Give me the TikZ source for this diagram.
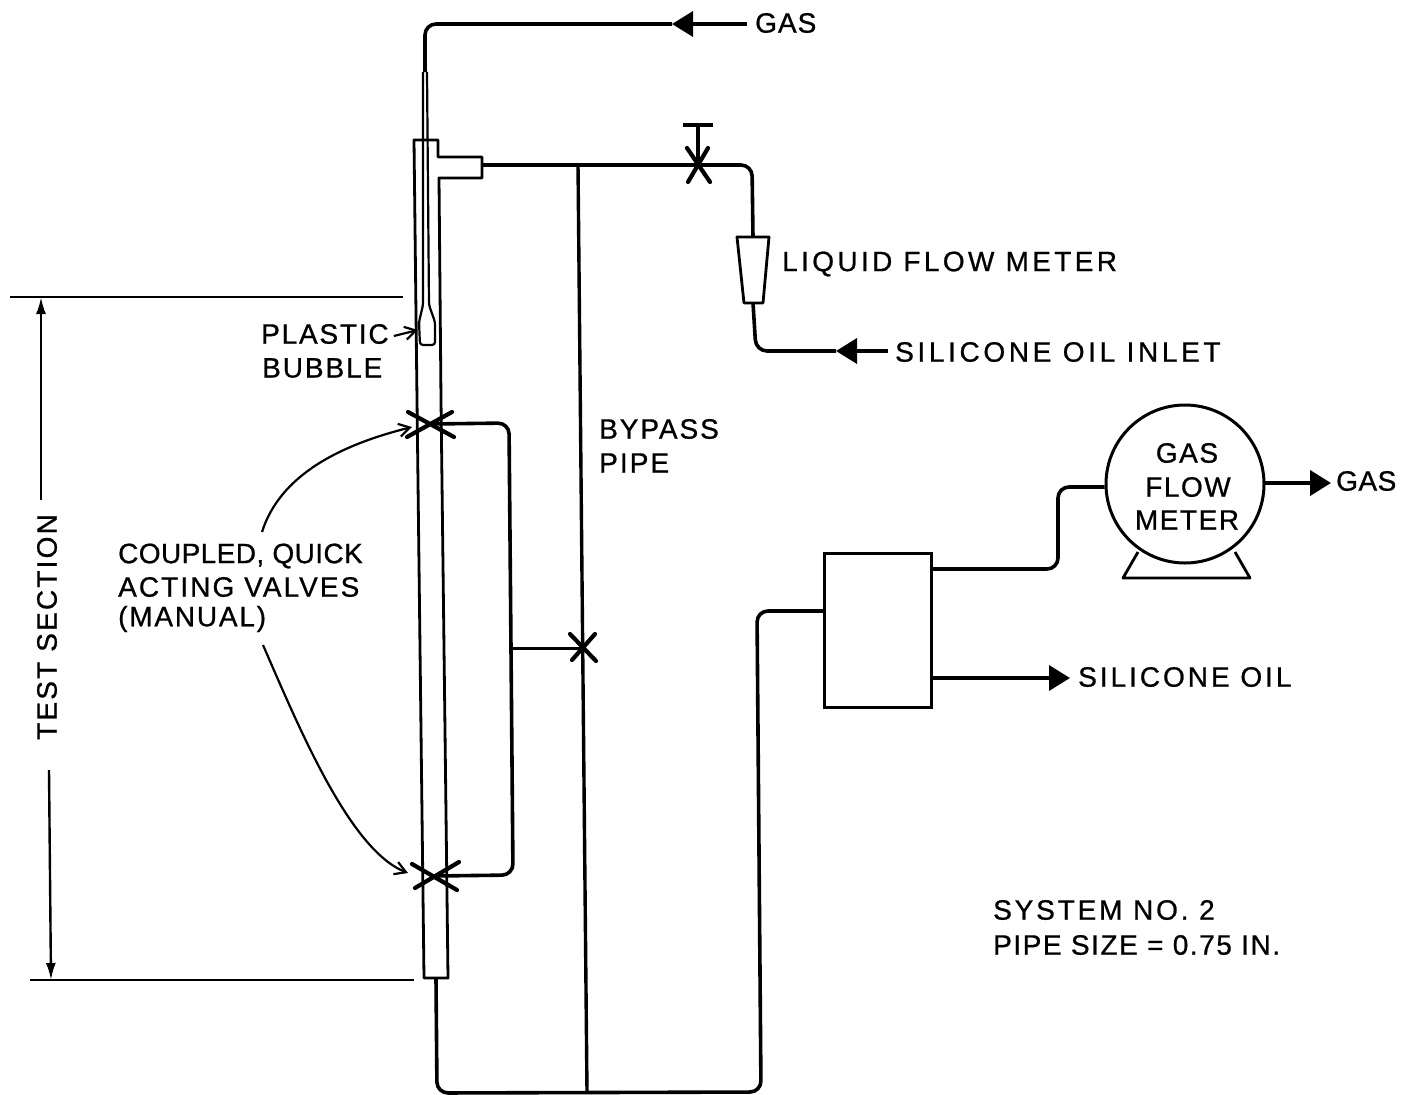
\documentclass[tikz,border=0pt]{standalone}
\usepackage{fontspec}
\setmainfont[FakeBold=0.8]{Liberation Sans}
\usetikzlibrary{arrows.meta}
\newcommand{\spaced}[2]{{\addfontfeatures{LetterSpace=#1}#2}}
\tikzset{
  pipe/.style={line width=3.6pt,line join=round,rounded corners=11pt},
  thin wall/.style={line width=2.8pt,line join=round},
  cross/.style={line width=4.2pt,line cap=round},
  flow/.style={line width=3.6pt,-{Triangle[length=21pt,width=25pt]}},
  barb/.style={line width=2.2pt,-{Straight Barb[length=11pt,width=13pt,line width=2.2pt]}},
  lbl/.style={anchor=west,inner sep=0pt,font=\fontsize{28}{32}\selectfont},
  clbl/.style={anchor=center,inner sep=0pt,font=\fontsize{28}{32}\selectfont},
}
\begin{document}
\begin{tikzpicture}[x=1pt,y=-1pt]
\useasboundingbox (0,0) rectangle (1403,1095);
% named points
\coordinate (gasin) at (747,24);
\coordinate (gastip) at (672,24);
\coordinate (gascorner) at (425,24);
\coordinate (gastube) at (425,72);
\coordinate (teeend) at (482,165);
\coordinate (junction) at (578,165);
\coordinate (valveA) at (698,165);
\coordinate (fmtop) at (753,237);
\coordinate (fmbot) at (753,303);
\coordinate (oilin) at (888,351);
\coordinate (oiltip) at (836,351);
\coordinate (valveB) at (431,424);
\coordinate (valveC) at (435,876);
\coordinate (valveD) at (582,648);
\coordinate (linkmid) at (510,648);
\coordinate (tubebot) at (436,979);
\coordinate (bypassbot) at (587,1092);
% test section tube with tee and inner tube
\draw[thin wall] (417,400) -- (414,140) -- (438,140) -- (438,157) -- (482,157) -- (482,178) -- (439,178) -- (441,400) -- (448,978) -- (424,978) -- (417,400);
\draw[line width=2.2pt,line join=round,rounded corners=3pt] (423,72) -- (423,305) -- (419,322) -- (420,345) -- (435,345) -- (435,322) -- (429,305) -- (427,72);
% gas inlet
\draw[flow] (gasin) -- (gastip);
\draw[pipe] (gastip) -- (gascorner) -- (gastube);
% liquid line
\draw[pipe] (teeend) -- (752,165) -- (fmtop);
\draw[line width=3.4pt] (junction) -- (bypassbot);
\draw[line width=2.8pt,line join=round] (737,237) -- (769,237) -- (763,303) -- (744,303) -- cycle;
\draw[pipe] (fmbot) -- (756,351) -- (oiltip);
\draw[flow] (oilin) -- (oiltip);
% hand valve
\draw[cross,line cap=butt] (683,125) -- (713,125);
\draw[pipe,rounded corners=0pt] (698,125) -- (valveA);
\draw[cross] (687,148) -- (710,182) (708,148) -- (688,182);
% coupled valves
\draw[cross] (408,412) -- (454,437) (407,437) -- (452,412);
\draw[cross] (412,864) -- (457,890) (415,888) -- (459,862);
\draw[cross] (570,634) -- (596,661) (572,660) -- (595,634);
\draw[pipe] (valveB) -- (509,423) -- (513,875) -- (valveC);
\draw[line width=3pt] (linkmid) -- (valveD);
% return line
\node[draw,line width=2.8pt,minimum width=107pt,minimum height=154pt,inner sep=0pt,anchor=north west] (sep) at (823,552) {};
\draw[pipe] (tubebot) -- (437,1093) -- (761,1092) -- (757,611) -- (sep.west |- 0,611);
% gas flow meter
\node[draw,circle,line width=3pt,minimum size=158pt,inner sep=0pt] (gfm) at (1185,484) {};
\draw[line width=2.8pt,line join=round] (1138,552) -- (1123,578) -- (1250,578) -- (1235,552);
\draw[pipe] (sep.east |- 0,569) -- (1058,569) -- (1058,487) -- (gfm.west |- 0,487);
\coordinate (gastail) at (1265,483);
\coordinate (gasout) at (1331,483);
\draw[flow,line width=4pt] (gastail) -- (gasout);
\coordinate (oiltail) at (931,678);
\coordinate (oilout) at (1070,678);
\draw[flow] (oiltail) -- (oilout);
% dimension
\coordinate (dtop) at (41,297);
\coordinate (dbot) at (51,980);
\draw[line width=1.8pt] (10,297) -- (403,297);
\draw[line width=1.8pt] (30,980) -- (414,980);
\draw[line width=2.4pt,-{Latex[length=17pt,width=10pt]}] (41,500) -- (dtop);
\draw[line width=2.4pt,-{Latex[length=17pt,width=10pt]}] (49,770) -- (dbot);
% labels
\node[lbl] (t1) at (755,23) {\spaced{3.6}{GAS}};
\node[lbl] (t2) at (782,264) {\spaced{12}{LIQUID FLOW METER}};
\node[lbl] (t3) at (895,352) {\spaced{13}{SILICONE OIL INLET}};
\node[lbl] (t4) at (261,334) {\spaced{6.4}{PLASTIC}};
\node[lbl] (t5) at (262,368) {\spaced{6.9}{BUBBLE}};
\node[lbl] (t6) at (599,429) {\spaced{6.9}{BYPASS}};
\node[lbl] (t7) at (599,463) {\spaced{7.4}{PIPE}};
\node[lbl] (t8) at (118,556) {\spaced{1.5}{COUPLED, QUICK}};
\node[lbl] (t9) at (118,587) {\spaced{7.4}{ACTING VALVES}};
\node[lbl] (t10) at (118,619) {\spaced{6.4}{(MANUAL)}};
\node[clbl] (t11) at (1187,453) {\spaced{5.5}{GAS}};
\node[clbl] (t12) at (1188,487) {\spaced{5.5}{FLOW}};
\node[clbl] (t13) at (1187,520) {\spaced{5.5}{METER}};
\node[lbl] (t14) at (1336,481) {\spaced{1.8}{GAS}};
\node[lbl] (t15) at (1078,677) {\spaced{10.6}{SILICONE OIL}};
\node[lbl] (t16) at (993,910) {\spaced{10.1}{SYSTEM NO. 2}};
\node[lbl] (t17) at (993,945) {\spaced{5.5}{PIPE SIZE = 0.75 IN.}};
\node[clbl,rotate=90] (t18) at (47,627) {\spaced{7.8}{TEST SECTION}};
% leaders
\draw[barb] (t4.east) ++(5,2) -- (418,330);
\draw[barb] (262,532) .. controls (280,475) and (340,445) .. (412,427);
\draw[barb] (263,645) .. controls (300,730) and (350,850) .. (408,873);
\end{tikzpicture}
\end{document}
